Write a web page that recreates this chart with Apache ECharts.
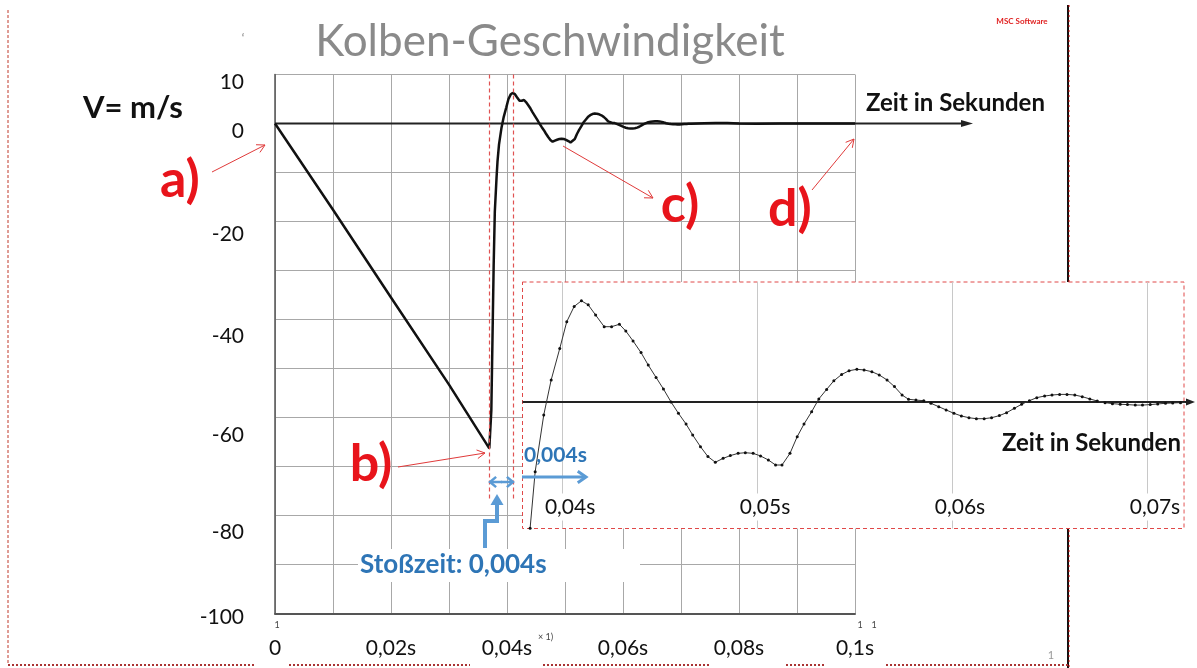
<!DOCTYPE html>
<html><head><meta charset="utf-8">
<script src="https://cdn.jsdelivr.net/npm/echarts@6/dist/echarts.min.js"></script>
<style>html,body{margin:0;padding:0;background:#fff}#c{width:1197px;height:668px}</style>
</head><body><div id="c"></div>
<script>
// ---------------- data ----------------
const timeS = [0, 0.01, 0.02, 0.03, 0.03695, 0.0373, 0.0377, 0.0379, 0.0382, 0.03836, 0.03862, 0.03906, 0.03944, 0.03988, 0.04024, 0.04062, 0.04099, 0.04134, 0.04172, 0.04216, 0.04254, 0.04294, 0.04327, 0.04364, 0.04405, 0.04442, 0.04482, 0.0452, 0.04559, 0.04597, 0.04636, 0.0467, 0.0471, 0.04748, 0.04786, 0.04826, 0.04863, 0.04903, 0.0494, 0.0498, 0.05018, 0.05058, 0.05095, 0.05128, 0.05169, 0.05206, 0.05241, 0.0528, 0.05317, 0.05357, 0.05394, 0.05434, 0.05472, 0.05512, 0.05549, 0.05589, 0.05627, 0.05667, 0.05705, 0.05744, 0.05777, 0.05815, 0.05855, 0.05892, 0.05932, 0.0597, 0.0601, 0.06048, 0.06087, 0.06125, 0.06165, 0.06203, 0.06243, 0.0628, 0.0632, 0.06357, 0.06397, 0.06435, 0.06475, 0.06513, 0.06552, 0.0659, 0.0663, 0.06668, 0.06707, 0.06745, 0.06785, 0.06823, 0.06863, 0.069, 0.0694, 0.06977, 0.07017, 0.07055, 0.07095, 0.07132, 0.07172, 0.074, 0.076, 0.078, 0.08, 0.083, 0.087, 0.09, 0.095, 0.1];
const velocity = [0, -17.6, -35.5, -53.3, -66.3, -58.5, -29, -18, -11, -7.8, -4.3, -0.8, 1.36, 3.3, 4.96, 5.9, 6.25, 6.0, 5.37, 4.65, 4.65, 4.8, 4.38, 3.77, 3.05, 2.28, 1.52, 0.8, 0, -0.7, -1.36, -2.04, -2.76, -3.37, -3.72, -3.48, -3.31, -3.17, -3.13, -3.17, -3.33, -3.58, -3.89, -3.89, -3.17, -2.14, -1.36, -0.6, 0.19, 0.78, 1.31, 1.7, 1.93, 2.02, 1.98, 1.87, 1.67, 1.36, 0.95, 0.43, 0.17, 0.12, 0.08, -0.08, -0.29, -0.49, -0.7, -0.86, -0.97, -1.03, -1.03, -0.97, -0.84, -0.66, -0.39, -0.14, 0.08, 0.27, 0.37, 0.43, 0.47, 0.47, 0.43, 0.33, 0.19, 0.06, -0.04, -0.1, -0.14, -0.16, -0.19, -0.19, -0.16, -0.12, -0.08, -0.06, -0.04, 0.05, 0.12, 0.1, 0.02, -0.05, 0.02, 0, 0, 0];
const impactStart = 0.037, impactEnd = 0.041;   // Stoßzeit markers
const insetPeak = [0.041, 6.25];
const yTickValues = [10, 0, -20, -40, -60, -80, -100];
const yTickLabels = ['10', '0', '-20', '-40', '-60', '-80', '-100'];
const xTickLabels = ['0', '0,02s', '0,04s', '0,06s', '0,08s', '0,1s'];
const insetTickLabels = ['0,04s', '0,05s', '0,06s', '0,07s'];
const titleText = 'Kolben-Geschwindigkeit';
const yName = 'V= m/s';
const xName = 'Zeit in Sekunden';
const stossText = 'Stoßzeit: 0,004s';
const dtText = '0,004s';

// ---------------- chart ----------------
const pairs = timeS.map((t, i) => [t, velocity[i]]);
const FONT = 'Lato';
const TICK_FS = 21;
const yDrop = {'10': 8, '0': 8, '-20': 13, '-40': 17, '-60': 18, '-80': 17, '-100': 4};
const rich = {};
Object.values(yDrop).forEach(d => { rich['d' + d] = {padding: [2 * d, 0, 0, 0], fontSize: TICK_FS, fontFamily: FONT, color: '#111'}; });

const chart = echarts.init(document.getElementById('c'), null, {renderer: 'canvas'});
chart.setOption({
  animation: false,
  backgroundColor: '#fff',
  grid: [
    {left: 275, top: 74.5, width: 580, height: 539, containLabel: false},
    {left: 522.5, top: 282, width: 661.5, height: 246.5, containLabel: false}
  ],
  xAxis: [
    {type: 'value', gridIndex: 0, min: 0, max: 0.1, interval: 0.01,
     axisLine: {onZero: false, lineStyle: {color: '#555', width: 2}},
     axisTick: {show: false},
     splitLine: {lineStyle: {color: '#a8a8a8', width: 1}},
     axisLabel: {margin: 24, fontSize: TICK_FS, fontFamily: FONT, color: '#111',
       formatter: v => { const k = Math.round(v * 100); return k % 2 === 0 ? xTickLabels[k / 2] : ''; }}},
    {type: 'value', gridIndex: 1, min: 0.03797, max: 0.0719, splitNumber: 3, minInterval: 0.01, maxInterval: 0.01, z: 6,
     axisLine: {show: false}, axisTick: {show: false},
     splitLine: {show: true, showMinLine: false, showMaxLine: false, lineStyle: {color: '#c8c8c8', width: 1}},
     axisLabel: {inside: true, margin: 8, fontSize: TICK_FS, fontFamily: FONT, color: '#111',
       backgroundColor: '#fff', padding: [3, 3, 3, 19],
       showMinLabel: false, showMaxLabel: false,
       formatter: v => { const k = Math.round(v * 100); if (Math.abs(v * 100 - k) > 1e-6) return ''; return insetTickLabels[k - 4] || ''; }}}
  ],
  yAxis: [
    {type: 'value', gridIndex: 0, min: -100, max: 10, interval: 10,
     axisLine: {show: true, lineStyle: {color: '#555', width: 1.5}},
     axisTick: {show: false},
     splitLine: {lineStyle: {color: '#a8a8a8', width: 1}},
     axisLabel: {margin: 31, fontSize: TICK_FS, fontFamily: FONT, color: '#111', rich: rich,
       formatter: v => { const i = yTickValues.indexOf(Math.round(v)); if (i < 0) return ''; const lab = yTickLabels[i]; return '{d' + yDrop[lab] + '|' + lab + '}'; }}},
    {type: 'value', gridIndex: 1, min: -7.81, max: 7.41, show: false}
  ],
  series: [
    {type: 'line', xAxisIndex: 0, yAxisIndex: 0, data: pairs, symbol: 'none', z: 3,
     lineStyle: {color: '#111', width: 2.5},
     markLine: {silent: true, symbol: 'none', label: {show: false},
       lineStyle: {color: '#e05252', type: [4, 3], width: 1.2},
       data: [
         [{coord: [impactStart, 10]}, {coord: [impactStart, -77]}],
         [{coord: [impactEnd, 10]}, {coord: [impactEnd, -77]}]
       ]}},
    {type: 'line', xAxisIndex: 1, yAxisIndex: 1, data: pairs, symbol: 'circle', symbolSize: 3, z: 7,
     itemStyle: {color: '#111'}, lineStyle: {color: '#333', width: 1},
     markLine: {silent: true, symbol: 'none', label: {show: false},
       lineStyle: {color: '#e05252', type: [4, 3], width: 1.2},
       data: [[{coord: insetPeak}, {coord: [insetPeak[0], -5.5]}]]}}
  ]
});

// ---------------- annotations ----------------
function arrow(x1, y1, x2, y2, o) {
  const ang = Math.atan2(y2 - y1, x2 - x1), L = o.head || 8, a = o.spread || 0.5, z = o.z || 8;
  const p1 = [x2 - L * Math.cos(ang - a), y2 - L * Math.sin(ang - a)];
  const p2 = [x2 - L * Math.cos(ang + a), y2 - L * Math.sin(ang + a)];
  return [
    {type: 'line', z, shape: {x1, y1, x2, y2}, style: {stroke: o.color, lineWidth: o.w}},
    o.filled ? {type: 'polygon', z, shape: {points: [p1, [x2, y2], p2]}, style: {fill: o.color}}
             : {type: 'polyline', z, shape: {points: [p1, [x2, y2], p2]}, style: {stroke: o.color, lineWidth: o.w, fill: null}}
  ];
}
function txt(x, y, text, font, fill, align, z) {
  return {type: 'text', x, y, z: z || 8, style: {text, font, fill, align: align || 'left', verticalAlign: 'middle'}};
}
const RED = '#e8141b', BLUE = '#5b9bd5', BLUE_T = '#2e75b6', BORDER = '#c0392b';
const z0 = chart.convertToPixel({gridIndex: 0}, [0, 0]);
const zEnd = chart.convertToPixel({gridIndex: 0}, [0.1, 0]);
const i0 = chart.convertToPixel({gridIndex: 1}, [0.03797, 0]);
const iEnd = chart.convertToPixel({gridIndex: 1}, [0.0719, 0]);

const els = [];
// page frame
els.push({type: 'line', z: 1, shape: {x1: 8, y1: 10, x2: 8, y2: 665}, style: {stroke: BORDER, lineWidth: 1, lineDash: [3, 2]}});
els.push({type: 'line', z: 1, shape: {x1: 1068, y1: 5, x2: 1068, y2: 668}, style: {stroke: '#111', lineWidth: 2}});
els.push({type: 'line', z: 1, shape: {x1: 1069, y1: 5, x2: 1069, y2: 668}, style: {stroke: '#c00', lineWidth: 1, lineDash: [2, 3]}});
[[8, 256], [289, 470], [543, 711], [786, 826], [886, 1070]].forEach(s => {
  els.push({type: 'line', z: 1, shape: {x1: s[0], y1: 665, x2: s[1], y2: 665}, style: {stroke: '#a33', lineWidth: 2, lineDash: [2, 2]}});
});
// title & logo & artifacts
els.push(txt(550, 42, titleText, '44px Lato', '#8a8a8a', 'center'));
els.push(txt(1022, 21, 'MSC Software', 'bold 8px Lato', '#e02020', 'center'));
els.push(txt(243, 38, '‘', '12px Lato', '#777', 'center'));
els.push(txt(277, 625, '1', '9px Lato', '#444', 'center'));
els.push(txt(860, 625, '1', '9px Lato', '#444', 'center'));
els.push(txt(874, 625, '1', '9px Lato', '#444', 'center'));
els.push(txt(538, 637, '× 1)', '9px Lato', '#444', 'left'));
els.push(txt(1051, 655, '1', '11px Lato', '#999', 'center'));
// axis names
els.push(txt(83, 108, yName, 'bold 31px Lato', '#111'));
els.push(txt(866, 103, xName, 'bold 24px Lato', '#111'));
// main zero line with arrow
els.push({type: 'line', z: 2, shape: {x1: z0[0], y1: z0[1], x2: zEnd[0] + 113, y2: z0[1]}, style: {stroke: '#222', lineWidth: 2}});
els.push({type: 'polygon', z: 2, shape: {points: [[zEnd[0] + 106, z0[1] - 3.5], [zEnd[0] + 118, z0[1]], [zEnd[0] + 106, z0[1] + 3.5]]}, style: {fill: '#222'}});
// inset box
els.push({type: 'rect', z: 5, shape: {x: 522.5, y: 282, width: 661.5, height: 246.5}, style: {fill: '#fff', stroke: '#e04848', lineWidth: 1, lineDash: [4, 3]}});
els.push({type: 'line', z: 7, shape: {x1: i0[0], y1: i0[1], x2: iEnd[0] + 6, y2: i0[1]}, style: {stroke: '#222', lineWidth: 2}});
els.push({type: 'polygon', z: 7, shape: {points: [[iEnd[0] + 2, i0[1] - 3.5], [iEnd[0] + 11, i0[1]], [iEnd[0] + 2, i0[1] + 3.5]]}, style: {fill: '#222'}});
els.push(txt(1002, 443, xName, 'bold 24px Lato', '#111', 'left', 9));
// red markers a) b) c) d)
els.push(txt(180, 180, 'a)', 'bold 52px Lato', RED, 'center'));
els.push(txt(371, 464, 'b)', 'bold 52px Lato', RED, 'center'));
els.push(txt(680, 205, 'c)', 'bold 52px Lato', RED, 'center'));
els.push(txt(790, 209, 'd)', 'bold 52px Lato', RED, 'center'));
els.push(...arrow(212, 172, 265, 145, {color: '#e03a3a', w: 1, head: 9}));
els.push(...arrow(398, 467, 485, 453, {color: '#e03a3a', w: 1, head: 9}));
els.push(...arrow(563, 146, 653, 198, {color: '#e03a3a', w: 1, head: 9}));
els.push(...arrow(812, 190, 854, 139, {color: '#e03a3a', w: 1, head: 9}));
// blue annotations
els.push({type: 'rect', z: 4, shape: {x: 358, y: 549, width: 282, height: 33}, style: {fill: '#fff'}});
els.push(txt(360, 565, stossText, 'bold 26px Lato', BLUE_T, 'left', 9));
els.push(txt(524, 455, dtText, 'bold 21px Lato', BLUE_T, 'left', 9));
els.push(...arrow(522, 477, 586, 477, {color: BLUE, w: 3, head: 10, spread: 0.6, z: 9}));
els.push(...arrow(501, 482, 513, 482, {color: BLUE, w: 2.5, head: 8, spread: 0.7, z: 9}));
els.push(...arrow(502, 482, 490, 482, {color: BLUE, w: 2.5, head: 8, spread: 0.7, z: 9}));
els.push({type: 'polyline', z: 9, shape: {points: [[485, 548], [485, 521], [497, 521], [497, 503]]}, style: {stroke: BLUE, lineWidth: 4, fill: null}});
els.push({type: 'polygon', z: 9, shape: {points: [[490.5, 505], [497, 494], [503.5, 505]]}, style: {fill: BLUE}});

chart.setOption({graphic: {elements: els}});
</script></body></html>
